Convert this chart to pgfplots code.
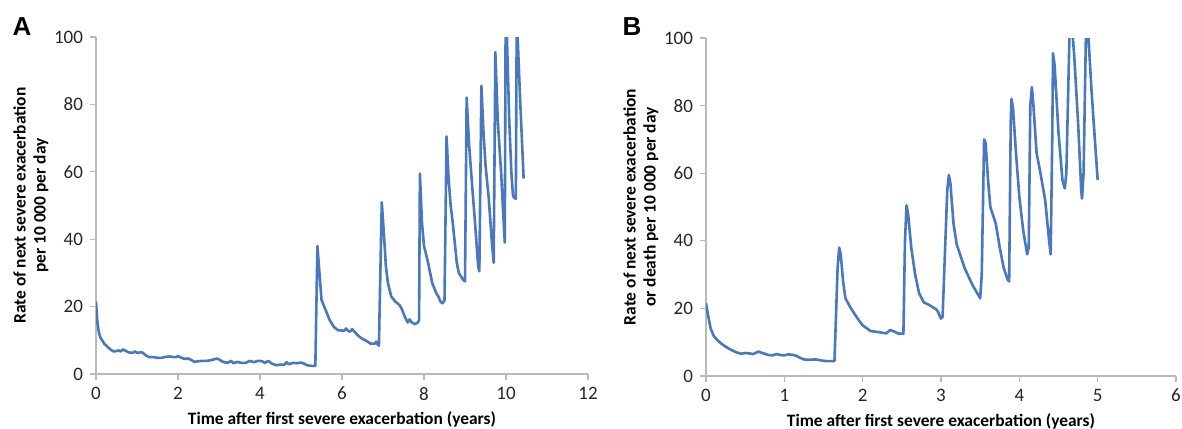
\documentclass[border=0pt]{standalone}
\usepackage{fontspec}
\setmainfont{Carlito}
\newfontfamily\panelfont{Liberation Sans}
\usepackage{pgfplots}
\pgfplotsset{compat=1.18}
\definecolor{xlblue}{RGB}{74,120,190}
\pgfplotsset{
  exstyle/.style={
    scale only axis,
    axis lines*=left,
    axis line style={-, draw=gray!55, line width=0.6pt},
    tick style={draw=gray!55, line width=0.6pt},
    tick align=outside,
    major tick length=3pt,
    ymin=0, ymax=100,
    ytick={0,20,...,100},
    /pgf/number format/assume math mode=true,
    tick label style={font=\fontsize{9.5}{10}\selectfont, text=black!85},
    label style={font=\bfseries\fontsize{8.7}{10}\selectfont},
    xlabel style={yshift=1pt},
    ylabel style={align=center},
    ylabel shift=-4pt,
  },
  curve/.style={xlblue, line width=1.3pt, line join=round},
}
\begin{document}
\begin{tikzpicture}
\path[use as bounding box] (0,0) rectangle (591pt,-214pt);
% panel A
\begin{axis}[exstyle,
  at={(48pt,-187pt)}, anchor=south west,
  width=246pt, height=168.5pt,
  xmin=0, xmax=12, xtick={0,2,...,12},
  xlabel={Time after first severe exacerbation (years)},
  ylabel={Rate of next severe exacerbation\\per 10 000 per day},
]
\addplot[curve] coordinates {
 (0,21.5) (0.03,16) (0.06,13) (0.1,11) (0.15,10) (0.2,9) (0.29,8) (0.36,7.2)
 (0.43,6.7) (0.5,6.8) (0.55,7.0) (0.6,6.7) (0.66,7.3) (0.72,6.9) (0.8,6.4)
 (0.9,6.3) (0.95,6.7) (1.0,6.3) (1.05,6.3) (1.1,6.5) (1.15,6.2) (1.22,5.5)
 (1.3,5.0) (1.4,5.0) (1.5,4.8) (1.6,4.8) (1.7,5.1) (1.8,5.2) (1.9,5.0)
 (1.95,5.0) (2.0,5.3) (2.05,5.0) (2.15,4.5) (2.25,4.6) (2.35,4.0) (2.4,3.6)
 (2.5,3.8) (2.6,3.9) (2.7,3.9) (2.8,4.1) (2.9,4.4) (2.95,4.6) (3.0,4.3)
 (3.1,3.6) (3.2,3.3) (3.3,3.9) (3.35,3.2) (3.45,3.6) (3.55,3.3) (3.65,3.3)
 (3.75,3.9) (3.85,3.5) (3.95,3.9) (4.05,3.8) (4.12,3.3) (4.2,3.9) (4.3,3.0)
 (4.4,2.6) (4.5,2.8) (4.6,2.8) (4.65,3.5) (4.7,2.9) (4.8,3.3) (4.9,3.2)
 (5.0,3.4) (5.05,3.2) (5.15,2.6) (5.25,2.4) (5.35,2.4) (5.4,38) (5.45,30)
 (5.5,22) (5.6,19) (5.7,16) (5.8,14) (5.9,13) (6.0,12.9) (6.05,12.8)
 (6.1,13.5) (6.15,12.8) (6.2,12.6) (6.25,13.3) (6.3,12.6) (6.4,11.3)
 (6.5,10.4) (6.6,9.8) (6.7,9.0) (6.8,9.0) (6.83,9.6) (6.87,8.8) (6.9,8.4)
 (6.97,51) (7.02,42) (7.07,32) (7.12,27) (7.2,23) (7.3,21.5) (7.4,20.5)
 (7.45,19.5) (7.55,16.5) (7.6,15.3) (7.65,16.2) (7.7,15.3) (7.78,14.8)
 (7.85,15.3) (7.88,16) (7.9,59.5) (7.95,45) (8.0,38) (8.1,33) (8.2,27)
 (8.3,24) (8.35,23) (8.4,21.5) (8.45,21) (8.5,21.8) (8.55,70.5) (8.6,58)
 (8.65,50) (8.7,45) (8.8,33) (8.85,30) (8.95,28) (9.0,27.5) (9.04,82)
 (9.1,68) (9.18,55) (9.25,44) (9.32,32) (9.35,30.5) (9.4,85.5) (9.45,72)
 (9.5,62) (9.58,52) (9.65,40) (9.7,33) (9.74,95.5) (9.8,75) (9.88,60)
 (9.93,48) (9.97,39) (9.99,101) (10.02,101) (10.08,75) (10.13,60)
 (10.17,53) (10.2,52.3) (10.24,52) (10.26,101) (10.28,101) (10.35,80)
 (10.43,58)
};
\end{axis}
% panel B
\begin{axis}[exstyle,
  at={(353pt,-188pt)}, anchor=south west,
  width=235pt, height=169pt,
  xmin=0, xmax=6, xtick={0,1,...,6},
  xlabel={Time after first severe exacerbation (years)},
  ylabel={Rate of next severe exacerbation\\or death per 10 000 per day},
]
\addplot[curve] coordinates {
 (0,21.5) (0.03,17.5) (0.06,14) (0.1,11.8) (0.15,10.5) (0.2,9.5) (0.25,8.7)
 (0.3,8) (0.35,7.4) (0.4,6.9) (0.45,6.6) (0.5,6.8) (0.55,6.7) (0.6,6.5)
 (0.67,7.2) (0.72,6.8) (0.8,6.2) (0.85,6.1) (0.9,6.5) (0.95,6.2) (1.0,6.1)
 (1.05,6.4) (1.1,6.3) (1.15,6.0) (1.2,5.4) (1.25,4.9) (1.3,4.8) (1.4,4.9)
 (1.45,4.7) (1.5,4.5) (1.55,4.4) (1.6,4.4) (1.64,4.4) (1.68,32) (1.7,38)
 (1.72,36) (1.75,28) (1.78,23) (1.85,20) (1.95,16.5) (2.0,15) (2.1,13.3)
 (2.2,13) (2.25,12.8) (2.3,12.6) (2.35,13.6) (2.4,13.2) (2.45,12.6)
 (2.52,12.5) (2.54,40) (2.56,50.5) (2.58,48) (2.62,38) (2.67,30) (2.72,24.5)
 (2.78,21.8) (2.85,21) (2.92,20) (2.95,19.5) (3.0,17) (3.02,17.5) (3.08,55)
 (3.1,59.5) (3.12,57) (3.16,45) (3.2,39) (3.3,32) (3.4,27) (3.45,25)
 (3.5,23) (3.52,30) (3.55,70) (3.57,69) (3.6,58) (3.63,50) (3.7,45)
 (3.75,38) (3.8,32) (3.85,28.5) (3.87,28) (3.89,75) (3.9,82) (3.92,79)
 (3.96,65) (4.0,53) (4.05,43) (4.1,36) (4.12,38) (4.14,80) (4.16,85.5)
 (4.18,80) (4.22,66) (4.27,60) (4.33,52) (4.38,40) (4.4,36) (4.42,70)
 (4.43,95.5) (4.45,92) (4.5,72) (4.55,58) (4.58,55.5) (4.6,60) (4.64,101)
 (4.68,101) (4.7,95) (4.75,75) (4.79,55) (4.8,52.5) (4.82,60) (4.85,101)
 (4.88,101) (4.92,85) (4.97,68) (5.0,58)
};
\end{axis}
\node[font=\panelfont\bfseries\fontsize{13}{13}\selectfont] at (11pt,-13.5pt) {A};
\node[font=\panelfont\bfseries\fontsize{13}{13}\selectfont] at (316pt,-13.5pt) {B};
\end{tikzpicture}
\end{document}
